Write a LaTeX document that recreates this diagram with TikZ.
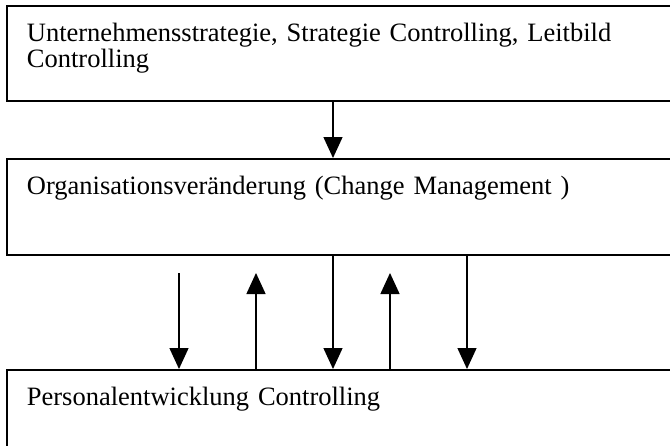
\documentclass[tikz,border=0pt]{standalone}
\usepackage{fontspec}
\setmainfont{Liberation Serif}
\usepackage{tikz}
\usetikzlibrary{arrows.meta,positioning}

\begin{document}
\begin{tikzpicture}[x=1pt, y=1pt,
  box/.style={draw, line width=1.8pt, anchor=north west, align=left,
    text width=650pt, inner xsep=20pt, inner ysep=18pt, text height=18pt,
    font=\fontsize{26.5}{26}\selectfont},
  flow/.style={line width=1.4pt, -{Triangle[length=21pt, width=19pt]}}]

  % Page frame
  \useasboundingbox (0,0) rectangle (670,-445);
  \clip (0,0) rectangle (670,-445);

  % Boxes (right and lower edges run off the page)
  \node[box, text depth=41pt] (strat) at (6,-5)
    {Unternehmensstrategie, Strategie Controlling, Leitbild\\Controlling};
  \node[box, text depth=42pt] (org) at (6,-158)
    {Organisationsveränderung (Change Management )};
  \node[box, text depth=70pt] (pers) at (6,-369)
    {Personalentwicklung Controlling};

  % Columns for the connectors
  \foreach \n/\x in {a/179, b/256, c/333, d/390, e/467}
    \coordinate (x\n) at (\x,-273);

  % Strategy -> organisation
  \draw[flow] (strat.south -| xc) -- (org.north -| xc);

  % Exchange between organisation and personnel
  \draw[flow] (xa) -- (pers.north -| xa);
  \draw[flow] (pers.north -| xb) -- (xb);
  \draw[flow] (org.south -| xc) -- (pers.north -| xc);
  \draw[flow] (pers.north -| xd) -- (xd);
  \draw[flow] (org.south -| xe) -- (pers.north -| xe);

\end{tikzpicture}
\end{document}
